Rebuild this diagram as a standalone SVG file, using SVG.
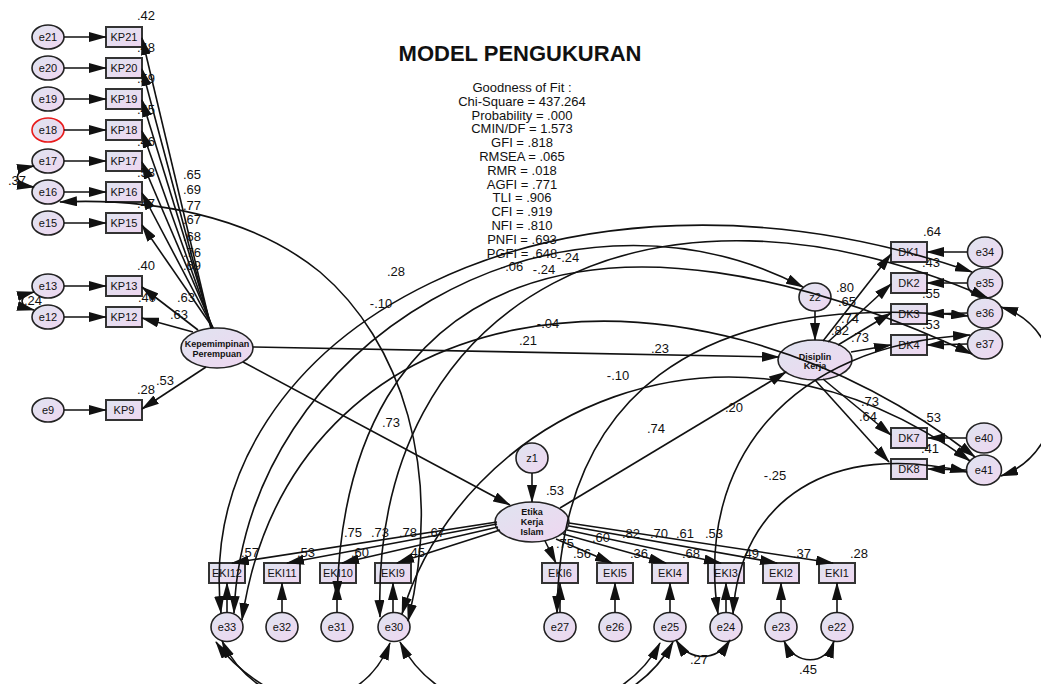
<svg xmlns="http://www.w3.org/2000/svg" width="1041" height="684" viewBox="0 0 1041 684">
<defs>
<linearGradient id="g" x1="0" y1="0" x2="1" y2="1">
<stop offset="0" stop-color="#dfe4f0"/>
<stop offset="1" stop-color="#efd6f0"/>
</linearGradient>
<marker id="ah" viewBox="0 0 18 10" refX="17" refY="5" markerWidth="18" markerHeight="10" markerUnits="userSpaceOnUse" orient="auto-start-reverse">
<path d="M0,0 L18,5 L0,10 z" fill="#111"/>
</marker>
<style>
.n ellipse,.n rect{fill:url(#g);stroke:#222;stroke-width:1.6}
.n rect{stroke:#333;stroke-width:2}
.n .red{stroke:#e81b1b}
text{font-family:"Liberation Sans",Arial,sans-serif;text-anchor:middle;fill:#111}
.t{font-size:11px}
.lv{font-size:9px;font-weight:bold}
.lb{font-size:13px}
.ttl{font-size:22px;font-weight:bold}
.gf{font-size:13px}
#conn path{fill:none;stroke:#111;stroke-width:1.6}
#conn .a{marker-end:url(#ah)}
#conn .d{marker-start:url(#ah);marker-end:url(#ah)}
</style>
</defs>
<rect width="1041" height="684" fill="#fff"/>

<g id="title">
<text class="ttl" x="520" y="61">MODEL PENGUKURAN</text>
<text class="gf" x="522" y="92">Goodness of Fit :</text>
<text class="gf" x="522" y="105.8">Chi-Square = 437.264</text>
<text class="gf" x="522" y="119.6">Probability = .000</text>
<text class="gf" x="522" y="133.4">CMIN/DF = 1.573</text>
<text class="gf" x="522" y="147.2">GFI = .818</text>
<text class="gf" x="522" y="161">RMSEA = .065</text>
<text class="gf" x="522" y="174.8">RMR = .018</text>
<text class="gf" x="522" y="188.6">AGFI = .771</text>
<text class="gf" x="522" y="202.4">TLI = .906</text>
<text class="gf" x="522" y="216.2">CFI = .919</text>
<text class="gf" x="522" y="230">NFI = .810</text>
<text class="gf" x="522" y="243.8">PNFI = .693</text>
<text class="gf" x="522" y="257.6">PGFI = .648</text>
</g>

<g id="kep" class="n"><ellipse cx="217" cy="348" rx="36" ry="20"/><text class="lv" x="217" y="346.5">Kepemimpinan</text><text class="lv" x="217" y="356.5">Perempuan</text></g>
<g id="etika" class="n"><ellipse cx="532" cy="522" rx="37" ry="20"/><text class="lv" x="532" y="515">Etika</text><text class="lv" x="532" y="525">Kerja</text><text class="lv" x="532" y="535">Islam</text></g>
<g id="disiplin" class="n"><ellipse cx="815" cy="360" rx="37" ry="20"/><text class="lv" x="815" y="359.5">Disiplin</text><text class="lv" x="815" y="368.5">Kerja</text></g>
<g id="z1" class="n"><ellipse cx="532" cy="458" rx="16" ry="15"/><text class="t" x="532" y="462">z1</text></g>
<g id="z2" class="n"><ellipse cx="815" cy="297" rx="16" ry="14"/><text class="t" x="815" y="301">z2</text></g>

<g id="e21" class="n"><ellipse cx="48" cy="37" rx="16" ry="12"/><text class="t" x="48" y="41">e21</text></g>
<g id="e20" class="n"><ellipse cx="48" cy="68" rx="16" ry="12"/><text class="t" x="48" y="72">e20</text></g>
<g id="e19" class="n"><ellipse cx="48" cy="99" rx="16" ry="12"/><text class="t" x="48" y="103">e19</text></g>
<g id="e18" class="n"><ellipse class="red" cx="48" cy="130" rx="16" ry="12"/><text class="t" x="48" y="134">e18</text></g>
<g id="e17" class="n"><ellipse cx="48" cy="161" rx="16" ry="12"/><text class="t" x="48" y="165">e17</text></g>
<g id="e16" class="n"><ellipse cx="48" cy="192" rx="16" ry="12"/><text class="t" x="48" y="196">e16</text></g>
<g id="e15" class="n"><ellipse cx="48" cy="223" rx="16" ry="12"/><text class="t" x="48" y="227">e15</text></g>
<g id="e13" class="n"><ellipse cx="48" cy="286" rx="16" ry="12"/><text class="t" x="48" y="290">e13</text></g>
<g id="e12" class="n"><ellipse cx="48" cy="317" rx="16" ry="12"/><text class="t" x="48" y="321">e12</text></g>
<g id="e9" class="n"><ellipse cx="48" cy="410" rx="16" ry="12"/><text class="t" x="48" y="414">e9</text></g>

<g id="KP21" class="n"><rect x="106" y="27" width="36" height="20"/><text class="t" x="124" y="41">KP21</text></g>
<g id="KP20" class="n"><rect x="106" y="58" width="36" height="20"/><text class="t" x="124" y="72">KP20</text></g>
<g id="KP19" class="n"><rect x="106" y="89" width="36" height="20"/><text class="t" x="124" y="103">KP19</text></g>
<g id="KP18" class="n"><rect x="106" y="120" width="36" height="20"/><text class="t" x="124" y="134">KP18</text></g>
<g id="KP17" class="n"><rect x="106" y="151" width="36" height="20"/><text class="t" x="124" y="165">KP17</text></g>
<g id="KP16" class="n"><rect x="106" y="182" width="36" height="20"/><text class="t" x="124" y="196">KP16</text></g>
<g id="KP15" class="n"><rect x="106" y="213" width="36" height="20"/><text class="t" x="124" y="227">KP15</text></g>
<g id="KP13" class="n"><rect x="106" y="276" width="36" height="20"/><text class="t" x="124" y="290">KP13</text></g>
<g id="KP12" class="n"><rect x="106" y="307" width="36" height="20"/><text class="t" x="124" y="321">KP12</text></g>
<g id="KP9" class="n"><rect x="106" y="400" width="36" height="20"/><text class="t" x="124" y="414">KP9</text></g>

<g id="DK1" class="n"><rect x="891" y="242" width="36" height="20"/><text class="t" x="909" y="256">DK1</text></g>
<g id="DK2" class="n"><rect x="891" y="273" width="36" height="20"/><text class="t" x="909" y="287">DK2</text></g>
<g id="DK3" class="n"><rect x="891" y="304" width="36" height="20"/><text class="t" x="909" y="318">DK3</text></g>
<g id="DK4" class="n"><rect x="891" y="335" width="36" height="20"/><text class="t" x="909" y="349">DK4</text></g>
<g id="DK7" class="n"><rect x="891" y="428" width="36" height="20"/><text class="t" x="909" y="442">DK7</text></g>
<g id="DK8" class="n"><rect x="891" y="459" width="36" height="20"/><text class="t" x="909" y="473">DK8</text></g>

<g id="e34" class="n"><ellipse cx="985" cy="252" rx="17.5" ry="15"/><text class="t" x="985" y="256">e34</text></g>
<g id="e35" class="n"><ellipse cx="985" cy="283" rx="17.5" ry="15"/><text class="t" x="985" y="287">e35</text></g>
<g id="e36" class="n"><ellipse cx="985" cy="313" rx="17.5" ry="15"/><text class="t" x="985" y="317">e36</text></g>
<g id="e37" class="n"><ellipse cx="985" cy="344" rx="17.5" ry="15"/><text class="t" x="985" y="348">e37</text></g>
<g id="e40" class="n"><ellipse cx="984" cy="438" rx="17.5" ry="15"/><text class="t" x="984" y="442">e40</text></g>
<g id="e41" class="n"><ellipse cx="984" cy="470" rx="17.5" ry="15"/><text class="t" x="984" y="474">e41</text></g>

<g id="EKI12" class="n"><rect x="209" y="563" width="36" height="20"/><text class="t" x="227" y="577">EKI12</text></g>
<g id="EKI11" class="n"><rect x="264" y="563" width="36" height="20"/><text class="t" x="282" y="577">EKI11</text></g>
<g id="EKI10" class="n"><rect x="320" y="563" width="36" height="20"/><text class="t" x="338" y="577">EKI10</text></g>
<g id="EKI9" class="n"><rect x="375" y="563" width="36" height="20"/><text class="t" x="393" y="577">EKI9</text></g>
<g id="EKI6" class="n"><rect x="542" y="563" width="36" height="20"/><text class="t" x="560" y="577">EKI6</text></g>
<g id="EKI5" class="n"><rect x="597" y="563" width="36" height="20"/><text class="t" x="615" y="577">EKI5</text></g>
<g id="EKI4" class="n"><rect x="652" y="563" width="36" height="20"/><text class="t" x="670" y="577">EKI4</text></g>
<g id="EKI3" class="n"><rect x="708" y="563" width="36" height="20"/><text class="t" x="726" y="577">EKI3</text></g>
<g id="EKI2" class="n"><rect x="763" y="563" width="36" height="20"/><text class="t" x="781" y="577">EKI2</text></g>
<g id="EKI1" class="n"><rect x="819" y="563" width="36" height="20"/><text class="t" x="837" y="577">EKI1</text></g>

<g id="e33" class="n"><ellipse cx="227" cy="627" rx="16" ry="14.5"/><text class="t" x="227" y="631">e33</text></g>
<g id="e32" class="n"><ellipse cx="282" cy="627" rx="16" ry="14.5"/><text class="t" x="282" y="631">e32</text></g>
<g id="e31" class="n"><ellipse cx="337" cy="627" rx="16" ry="14.5"/><text class="t" x="337" y="631">e31</text></g>
<g id="e30" class="n"><ellipse cx="394" cy="627" rx="16" ry="14.5"/><text class="t" x="394" y="631">e30</text></g>
<g id="e27" class="n"><ellipse cx="560" cy="627" rx="16" ry="14.5"/><text class="t" x="560" y="631">e27</text></g>
<g id="e26" class="n"><ellipse cx="615" cy="627" rx="16" ry="14.5"/><text class="t" x="615" y="631">e26</text></g>
<g id="e25" class="n"><ellipse cx="670" cy="627" rx="16" ry="14.5"/><text class="t" x="670" y="631">e25</text></g>
<g id="e24" class="n"><ellipse cx="726" cy="627" rx="16" ry="14.5"/><text class="t" x="726" y="631">e24</text></g>
<g id="e23" class="n"><ellipse cx="781" cy="627" rx="16" ry="14.5"/><text class="t" x="781" y="631">e23</text></g>
<g id="e22" class="n"><ellipse cx="837" cy="627" rx="16" ry="14.5"/><text class="t" x="837" y="631">e22</text></g>

<g id="conn">
<!-- error -> KP -->
<path class="a" d="M64,37 L106,37"/>
<path class="a" d="M64,68 L106,68"/>
<path class="a" d="M64,99 L106,99"/>
<path class="a" d="M64,130 L106,130"/>
<path class="a" d="M64,161 L106,161"/>
<path class="a" d="M64,192 L106,192"/>
<path class="a" d="M64,223 L106,223"/>
<path class="a" d="M64,286 L106,286"/>
<path class="a" d="M64,317 L106,317"/>
<path class="a" d="M64,410 L106,410"/>
<!-- Kep -> KP -->
<path class="a" d="M211,328 L142,38"/>
<path class="a" d="M211,328 L142,69"/>
<path class="a" d="M212,328 L142,100"/>
<path class="a" d="M212,328 L142,131"/>
<path class="a" d="M213,328 L142,162"/>
<path class="a" d="M213,328 L142,193"/>
<path class="a" d="M213,328 L142,225"/>
<path class="a" d="M198,330 L142,287"/>
<path class="a" d="M193,332 L142,318"/>
<path class="a" d="M206,367 L142,409"/>
<!-- structural -->
<path class="a" d="M253,347 L779,357"/>
<path class="a" d="M243,362 L510,505"/>
<path class="a" d="M560,508 L786,372"/>
<path class="a" d="M532,473 L532,502"/>
<path class="a" d="M815,311 L815,340"/>
<!-- Disiplin -> DK -->
<path class="a" d="M823,341 L891,254"/>
<path class="a" d="M828,342 L891,284"/>
<path class="a" d="M838,345 L891,313"/>
<path class="a" d="M851,352 L891,345"/>
<path class="a" d="M823,379 L891,435"/>
<path class="a" d="M815,380 L889,462"/>
<!-- error -> DK -->
<path class="a" d="M967,252 L927,252"/>
<path class="a" d="M967,283 L927,283"/>
<path class="a" d="M967,313 L927,314"/>
<path class="a" d="M967,344 L927,345"/>
<path class="a" d="M966,438 L928,438"/>
<path class="a" d="M966,470 L928,469"/>
<!-- Etika -> EKI -->
<path class="a" d="M497,522 L232,563"/>
<path class="a" d="M497,524 L287,563"/>
<path class="a" d="M498,527 L342,563"/>
<path class="a" d="M500,530 L397,563"/>
<path class="a" d="M545,541 L556,563"/>
<path class="a" d="M556,539 L612,563"/>
<path class="a" d="M563,534 L666,563"/>
<path class="a" d="M567,530 L721,563"/>
<path class="a" d="M569,526 L777,563"/>
<path class="a" d="M569,523 L833,563"/>
<!-- error -> EKI -->
<path class="a" d="M227,612.5 L227,583"/>
<path class="a" d="M282,612.5 L282,583"/>
<path class="a" d="M337,612.5 L337,583"/>
<path class="a" d="M393,612.5 L393,583"/>
<path class="a" d="M560,612.5 L560,583"/>
<path class="a" d="M615,612.5 L615,583"/>
<path class="a" d="M670,612.5 L670,583"/>
<path class="a" d="M726,612.5 L726,583"/>
<path class="a" d="M781,612.5 L781,583"/>
<path class="a" d="M837,612.5 L837,583"/>
<!-- covariances -->
<path class="d" d="M34,166 C12,170 12,184 34,187"/>
<path class="d" d="M34,292 C18,296 18,306 34,310"/>
<path class="d" d="M60,202 C150,198 250,215 320,272 C400,340 445,470 408,621"/>
<path class="d" d="M221,613 C190,330 560,130 972,272"/>
<path class="d" d="M234,613 C245,340 560,160 803,287"/>
<path class="d" d="M242,620 C290,290 680,230 975,457"/>
<path class="d" d="M337,598 C345,270 600,180 972,354"/>
<path class="d" d="M380,617 C370,300 650,150 988,298"/>
<path class="d" d="M557,613 C560,400 690,290 968,316"/>
<path class="d" d="M402,614 C460,420 720,280 970,461"/>
<path class="d" d="M718,614 C695,460 790,345 970,335"/>
<path class="d" d="M733,614 C740,500 830,440 967,472"/>
<path class="d" d="M222,641 C260,720 360,720 390,643"/>
<path class="d" d="M216,642 C300,760 600,760 660,643"/>
<path class="d" d="M400,642 C450,740 620,740 673,642"/>
<path class="d" d="M676,640 C690,662 716,662 730,640"/>
<path class="d" d="M784,641 C795,666 826,666 834,641"/>
<path class="d" d="M1001,307 C1075,330 1075,450 1001,476"/>
</g>

<g id="labels" class="lb">
<text x="146" y="19.5">.42</text>
<text x="146" y="51.5">.48</text>
<text x="146" y="82.5">.59</text>
<text x="146" y="113.5">.45</text>
<text x="146" y="145.5">.46</text>
<text x="146" y="176.5">.58</text>
<text x="146" y="207.5">.47</text>
<text x="192" y="178.5">.65</text>
<text x="192" y="193.5">.69</text>
<text x="192" y="209.5">.77</text>
<text x="192" y="223.5">.67</text>
<text x="192" y="240.5">.68</text>
<text x="192" y="256.5">.76</text>
<text x="192" y="269.5">.69</text>
<text x="146" y="269.5">.40</text>
<text x="147" y="301.5">.40</text>
<text x="186" y="301.5">.63</text>
<text x="179" y="318.5">.63</text>
<text x="165" y="384.5">.53</text>
<text x="146" y="393.5">.28</text>
<text x="17" y="184.5">.37</text>
<text x="33" y="305">.24</text>
<text x="396" y="275.5">.28</text>
<text x="381" y="307.5">-.10</text>
<text x="512" y="271">-.06</text>
<text x="568" y="261.5">-.24</text>
<text x="544" y="274">-.24</text>
<text x="548" y="327.5">-.04</text>
<text x="528" y="344.5">.21</text>
<text x="660" y="352.5">.23</text>
<text x="618" y="379.5">-.10</text>
<text x="391" y="426.5">.73</text>
<text x="656" y="432.5">.74</text>
<text x="734" y="411.5">.20</text>
<text x="775" y="479.5">-.25</text>
<text x="555" y="494.5">.53</text>
<text x="932" y="235.5">.64</text>
<text x="931" y="266.5">.43</text>
<text x="931" y="297.5">.55</text>
<text x="931" y="328.5">.53</text>
<text x="845" y="291.5">.80</text>
<text x="847" y="305.5">.65</text>
<text x="850" y="322.5">.74</text>
<text x="840" y="334.5">.82</text>
<text x="860" y="341.5">.73</text>
<text x="870" y="405.5">.73</text>
<text x="868" y="420.5">.64</text>
<text x="932" y="421.5">.53</text>
<text x="930" y="452.5">.41</text>
<text x="250" y="556.5">.57</text>
<text x="306" y="556.5">.53</text>
<text x="360" y="556.5">.60</text>
<text x="416" y="556.5">.45</text>
<text x="353" y="536.5">.75</text>
<text x="380" y="536.5">.73</text>
<text x="408" y="536.5">.78</text>
<text x="436" y="536.5">.67</text>
<text x="565" y="547.5">.75</text>
<text x="582" y="557.5">.56</text>
<text x="601" y="541.5">.60</text>
<text x="631" y="537.5">.82</text>
<text x="659" y="537.5">.70</text>
<text x="685" y="537.5">.61</text>
<text x="714" y="537.5">.53</text>
<text x="639" y="557.5">.36</text>
<text x="691" y="557.5">.68</text>
<text x="750" y="557.5">.49</text>
<text x="802" y="557.5">.37</text>
<text x="859" y="557.5">.28</text>
<text x="699" y="663.5">.27</text>
<text x="808" y="673.5">.45</text>
</g>
</svg>
